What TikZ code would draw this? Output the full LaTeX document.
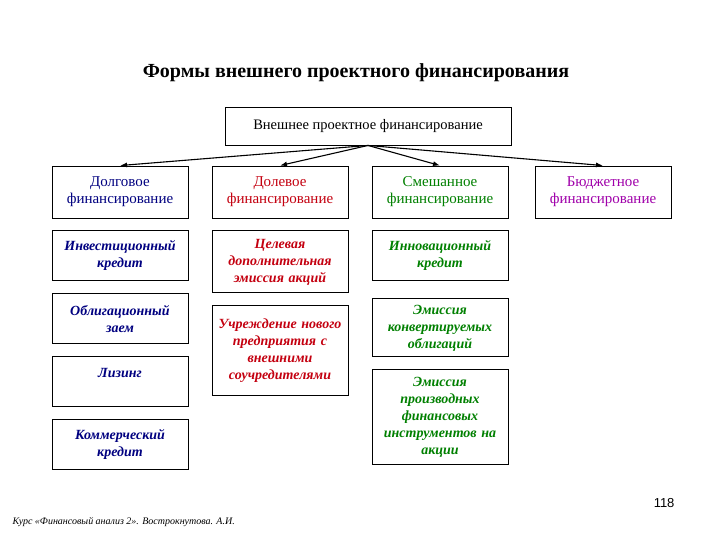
\documentclass[tikz,border=0pt]{standalone}
\usepackage{fontspec}
\setmainfont{Liberation Serif}
\newfontfamily\pagefont{Liberation Sans}
\usetikzlibrary{positioning,arrows.meta}

\definecolor{debtcol}{RGB}{0,0,128}
\definecolor{equitycol}{RGB}{196,0,16}
\definecolor{mixedcol}{RGB}{0,128,0}
\definecolor{budgetcol}{RGB}{160,0,170}

\begin{document}
\begin{tikzpicture}[
  x=1pt, y=-1pt,
  font=\fontsize{15}{17}\selectfont,
  line/.style={-{Latex[length=7pt,width=5pt]}, line width=1.1pt, draw=black},
  box/.style={draw=black, line width=0.9pt, text width=132pt, inner xsep=2pt, inner ysep=1pt, align=center},
  head/.style={box, minimum height=52pt},
  sub/.style={box, font=\fontsize{14}{17}\selectfont\bfseries\itshape}
]
\useasboundingbox[fill=white] (0,0) rectangle (720,540);

% Title and root
\node[font=\fontsize{20}{24}\selectfont\bfseries] (title) at (356,73) {Формы внешнего проектного финансирования};
\node[draw=black, line width=0.9pt, minimum width=286pt, minimum height=38pt, font=\fontsize{14.5}{17}\selectfont] (root) at (368,126) {Внешнее проектное финансирование};

% Column heads
\node[head, text=debtcol] (debt) at (120,192) {Долговое\\финансирование};
\node[head, text=equitycol] (equity) at (280,192) {Долевое\\финансирование};
\node[head, text=mixedcol] (mixed) at (440,192) {Смешанное\\финансирование};
\node[head, text=budgetcol] (budget) at (603,192) {Бюджетное\\финансирование};

% Debt forms
\node[sub, text=debtcol, minimum height=50pt, below=12pt of debt] (invest) {Инвестиционный\\кредит};
\node[sub, text=debtcol, minimum height=50pt, below=12pt of invest] (bond) {Облигационный\\заем};
\node[sub, text=debtcol, minimum height=50pt, below=12pt of bond] (lease) {Лизинг\\\mbox{}};
\node[sub, text=debtcol, minimum height=50pt, below=12pt of lease] (trade) {Коммерческий\\кредит};

% Equity forms
\node[sub, text=equitycol, minimum height=62pt, below=12pt of equity] (issue) {Целевая\\дополнительная\\эмиссия акций};
\node[sub, text=equitycol, minimum height=90pt, below=12pt of issue] (newco) {Учреждение нового\\предприятия с\\внешними\\соучредителями};

% Mixed forms
\node[sub, text=mixedcol, minimum height=50pt, below=12pt of mixed] (innov) {Инновационный\\кредит};
\node[sub, text=mixedcol, minimum height=58pt, below=17pt of innov] (conv) {Эмиссия\\конвертируемых\\облигаций};
\node[sub, text=mixedcol, minimum height=95pt, below=12pt of conv] (deriv) {Эмиссия\\производных\\финансовых\\инструментов на\\акции};

% Footer
\node[anchor=east, font=\pagefont\fontsize{13}{15}\selectfont] (pagenum) at (678,503) {118};
\node[anchor=west, font=\fontsize{10}{12}\selectfont\itshape] (course) at (9,522) {Курс «Финансовый анализ 2». Вострокнутова. А.И.};

% Arrows
\draw[line] (root.south) -- (debt.north);
\draw[line] (root.south) -- (equity.north);
\draw[line] (root.south) -- (mixed.north);
\draw[line] (root.south) -- (budget.north);
\end{tikzpicture}
\end{document}
